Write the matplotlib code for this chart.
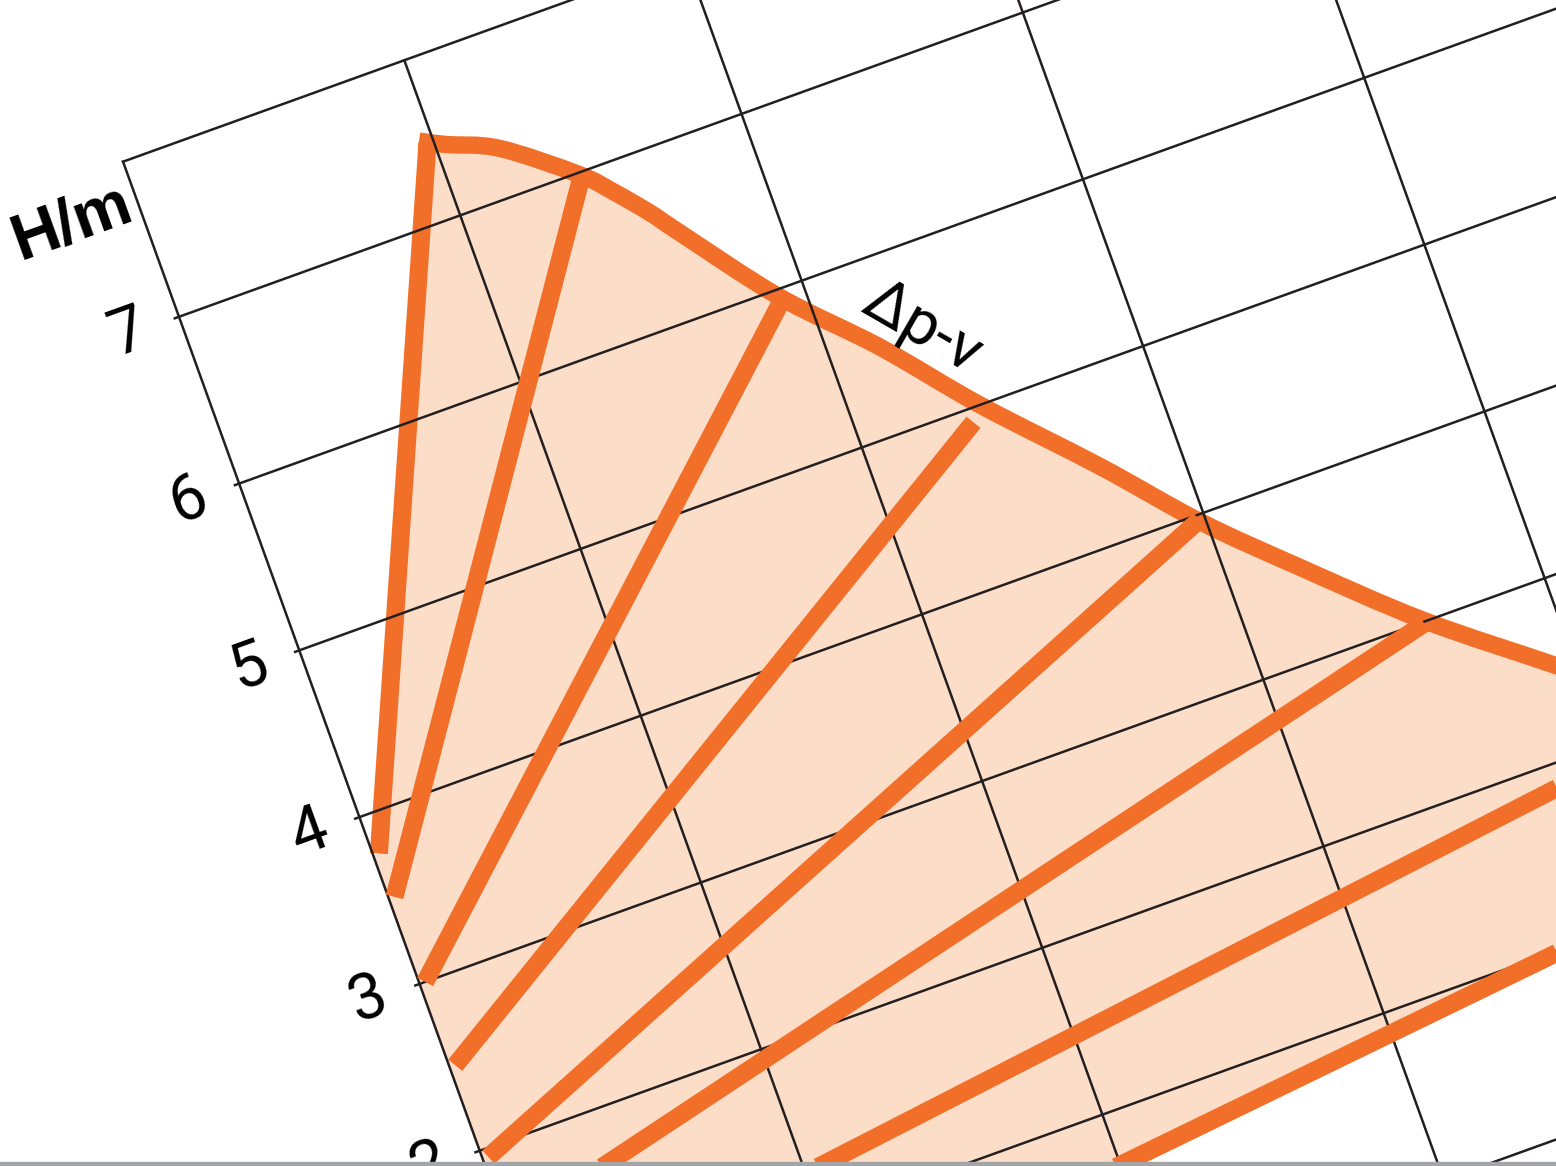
import matplotlib
matplotlib.use('Agg')
import matplotlib.pyplot as plt
from matplotlib.transforms import Affine2D
from matplotlib.path import Path
from matplotlib.patches import PathPatch

# ---------------- data (Q in grid units, H in m) ----------------
h_tick_values = [2, 3, 4, 5, 6, 7]
h_tick_labels = ['2', '3', '4', '5', '6', '7']
h_grid = [0, 1, 2, 3, 4, 5, 6, 7]
q_grid = [1, 2, 3, 4, 5]
h_top = 7.93
axis_label = 'H/m'
curve_label = 'Δp-v'

# maximum (Δp-v) curve
max_q = [0.98, 1.04, 1.20, 1.42, 1.51, 1.60, 1.67, 1.91, 2.17, 2.42, 2.73,
         2.98, 3.24, 3.57, 3.94, 4.20, 4.50, 4.90]
max_h = [7.45, 7.40, 7.28, 6.99, 6.83, 6.65, 6.49, 5.96, 5.50, 5.00, 4.44,
         3.96, 3.53, 3.01, 2.51, 2.15, 1.78, 1.22]

# control lines: start (Q0,H0) -> end on max curve (Q1,H1)
ctrl_q0 = [0.02, 0.02, 0.02, 0.02, 0.02, 0.00, 0.00, 0.00]
ctrl_h0 = [3.77, 3.51, 3.00, 2.50, 1.95, 1.53, 1.04, 0.34]
ctrl_q1 = [0.98, 1.42, 1.90, 2.38, 2.98, 3.57, 4.34, 4.90]
ctrl_h1 = [7.45, 6.96, 5.91, 4.92, 3.97, 2.99, 1.98, 1.22]

# ---------------- style ----------------
ORANGE = '#F26F2A'
FILL = '#FCDEC8'
GRID = '#231F20'
W, H = 1556, 1166
ANG = 19.83

fig = plt.figure(figsize=(W / 100, H / 100), dpi=100)
ax = fig.add_axes([0, 0, 1, 1])
ax.set_xlim(0, W)
ax.set_ylim(0, H)
ax.axis('off')

# rotated chart coordinate system (Q, H) -> pixels
trans = (Affine2D().scale(299.0, 177.3).rotate_deg(ANG)
         .translate(600.0, H - 1484.3) + ax.transData)


def smooth_segments(xs, ys):
    """Catmull-Rom through the points, as cubic Bezier vertices/codes."""
    pts = list(zip(xs, ys))
    n = len(pts)
    verts, codes = [], []
    for i in range(n - 1):
        p0 = pts[max(i - 1, 0)]
        p1 = pts[i]
        p2 = pts[i + 1]
        p3 = pts[min(i + 2, n - 1)]
        c1 = (p1[0] + (p2[0] - p0[0]) / 6, p1[1] + (p2[1] - p0[1]) / 6)
        c2 = (p2[0] - (p3[0] - p1[0]) / 6, p2[1] - (p3[1] - p1[1]) / 6)
        verts += [c1, c2, p2]
        codes += [Path.CURVE4] * 3
    return verts, codes


curve_v, curve_c = smooth_segments(max_q, max_h)

# fill region: line 1, max curve, lowest control line, axis
fv = [(ctrl_q0[0], ctrl_h0[0]), (max_q[0], max_h[0])] + curve_v + \
     [(ctrl_q0[-1], ctrl_h0[-1]), (0.0, ctrl_h0[-1]), (0.0, ctrl_h0[0]),
      (ctrl_q0[0], ctrl_h0[0])]
fc = [Path.MOVETO, Path.LINETO] + curve_c + \
     [Path.LINETO, Path.LINETO, Path.LINETO, Path.CLOSEPOLY]
ax.add_patch(PathPatch(Path(fv, fc), facecolor=FILL, edgecolor='none',
                       transform=trans, zorder=1))

# max curve
cv = [(max_q[0], max_h[0])] + curve_v
cc = [Path.MOVETO] + curve_c
ax.add_patch(PathPatch(Path(cv, cc), facecolor='none', edgecolor=ORANGE,
                       lw=12.5, capstyle='projecting', joinstyle='round',
                       transform=trans, zorder=2))

# first control line beneath the grid
ax.plot([ctrl_q0[0], ctrl_q1[0]], [ctrl_h0[0], ctrl_h1[0]], color=ORANGE,
        lw=13, solid_capstyle='butt', transform=trans, zorder=2)

# grid
ax.plot([0, 0], [-1.5, h_top], color=GRID, lw=1.8, transform=trans, zorder=3)
ax.plot([0, 6], [h_top, h_top], color=GRID, lw=1.8, transform=trans, zorder=3)
for q in q_grid:
    ax.plot([q, q], [-1.5, h_top], color=GRID, lw=1.8, transform=trans, zorder=3)
for h in h_grid:
    ax.plot([-0.015, 6], [h, h], color=GRID, lw=1.8, transform=trans, zorder=3)

# other control lines
for q0, h0, q1, h1 in list(zip(ctrl_q0, ctrl_h0, ctrl_q1, ctrl_h1))[1:]:
    ax.plot([q0, q1], [h0, h1], color=ORANGE, lw=13, solid_capstyle='butt',
            transform=trans, zorder=4)

# tick labels
tick_font = ['Roboto', 'DejaVu Sans']
for v, lab in zip(h_tick_values, h_tick_labels):
    ax.text(-0.177, v + 0.05, lab, transform=trans, rotation=ANG,
            rotation_mode='anchor', ha='center', va='center_baseline',
            fontsize=46, family=tick_font, color='black', zorder=5)

ax.text(-0.228, 7.74, axis_label, transform=trans, rotation=ANG,
        rotation_mode='anchor', ha='center', va='center_baseline',
        fontsize=47, fontweight='bold', family=['Liberation Sans', 'DejaVu Sans'],
        color='black', zorder=5)

ax.text(2.34, 5.545, curve_label, transform=trans, rotation=-30,
        rotation_mode='anchor', ha='center', va='center_baseline', fontsize=45,
        family=tick_font, color='black', zorder=5)

# bottom grey strip
ax.axhspan(0, 4.5, color='#A3A5A7', zorder=6)

fig.savefig('out.png', dpi=100)
